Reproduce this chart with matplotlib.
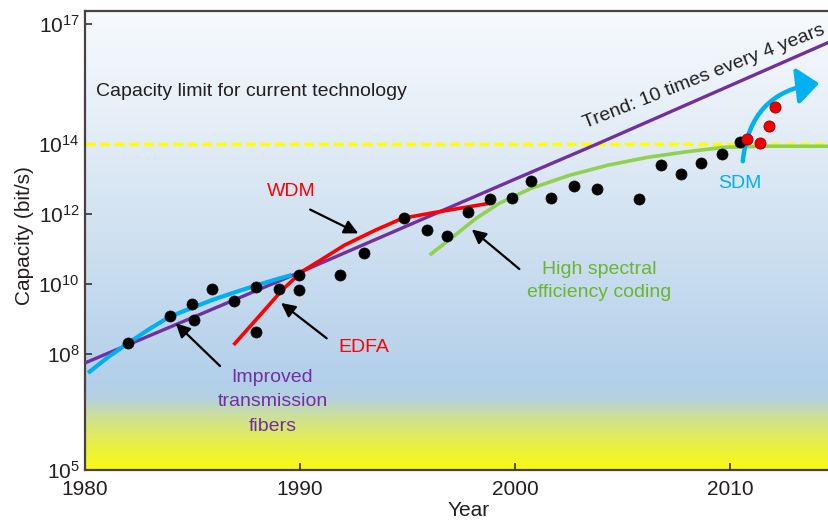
import numpy as np
import matplotlib
matplotlib.use("Agg")
import matplotlib.pyplot as plt
from matplotlib.ticker import FixedLocator, FixedFormatter, NullLocator
from matplotlib.patches import FancyArrowPatch

plt.rcParams['font.family'] = ['Liberation Sans', 'DejaVu Sans']
plt.rcParams['mathtext.fontset'] = 'custom'
plt.rcParams['mathtext.rm'] = 'Liberation Sans'
plt.rcParams['mathtext.it'] = 'Liberation Sans'

# ---------------- data (capacities given as log10 of bit/s) ----------------
dot_year = [1982.0, 1983.95, 1984.98, 1985.08, 1985.92, 1986.93, 1987.94, 1987.97,
            1989.04, 1989.97, 1989.97, 1991.86, 1992.96, 1994.85, 1995.89, 1996.82,
            1997.83, 1998.85, 1999.87, 2000.73, 2001.67, 2002.76, 2003.80, 2005.75,
            2006.78, 2007.73, 2008.67, 2009.63, 2010.47]
dot_log = [8.33, 9.09, 9.42, 8.96, 9.85, 9.51, 9.92, 8.64,
           9.86, 10.27, 9.84, 10.25, 10.89, 11.89, 11.54, 11.38,
           12.05, 12.44, 12.47, 12.95, 12.47, 12.81, 12.72, 12.42,
           13.39, 13.16, 13.46, 13.73, 14.06]

sdm_year = [2010.78, 2011.40, 2011.81, 2012.11]
sdm_log = [14.12, 14.03, 14.45, 14.93]

trend_year = [1980.0, 1990.0, 2000.0, 2003.8, 2014.6]
trend_log = [7.77, 10.34, 13.0, 14.0, 16.55]

fiber_year = [1980.14, 1981.07, 1982.0, 1982.98, 1983.95, 1984.93, 1985.89,
              1986.84, 1987.75, 1988.70, 1989.61]
fiber_log = [7.51, 7.92, 8.31, 8.71, 9.07, 9.31, 9.54, 9.74, 9.92, 10.10, 10.26]

wdm_year = [1986.91, 1988.08, 1989.17, 1990.07, 1990.97, 1992.06, 1993.50,
            1994.76, 1996.20, 1997.65, 1998.82]
wdm_log = [8.26, 9.07, 9.83, 10.35, 10.69, 11.11, 11.54, 11.88, 12.04, 12.19, 12.31]

coding_year = [1996.03, 1997.11, 1998.19, 1999.27, 2000.72, 2002.53, 2004.33,
               2006.13, 2007.94, 2009.74, 2011.55, 2014.6]
coding_log = [10.83, 11.35, 11.88, 12.31, 12.73, 13.11, 13.40, 13.62, 13.78,
              13.91, 13.94, 13.94]

limit_log = 14
sdm_arrow_start = (2010.59, 13.51)
sdm_arrow_end = (2014.14, 15.52)

ytick_exp = [5, 8, 10, 12, 14, 17]
xticks = [1980, 1990, 2000, 2010]

# ---------------- axis calibration (the original axis is not uniformly logarithmic) ----------------
LOG_BREAKS = np.array([5.0, 8.0, 14.0, 17.0])
PIX_BREAKS = np.array([0.0, 116.0, 326.0, 446.0])


def _pw(x, xp, fp):
    x = np.asarray(x, dtype=float)
    shape = x.shape
    x = np.atleast_1d(x)
    out = np.interp(x, xp, fp)
    lo = x < xp[0]
    hi = x > xp[-1]
    out[lo] = fp[0] + (x[lo] - xp[0]) * (fp[1] - fp[0]) / (xp[1] - xp[0])
    out[hi] = fp[-1] + (x[hi] - xp[-1]) * (fp[-1] - fp[-2]) / (xp[-1] - xp[-2])
    return out.reshape(shape)


def fwd(y):
    y = np.asarray(y, dtype=float)
    with np.errstate(divide='ignore', invalid='ignore'):
        l = np.log10(np.maximum(y, 1e-300))
    return _pw(l, LOG_BREAKS, PIX_BREAKS)


def inv(v):
    return 10.0 ** _pw(v, PIX_BREAKS, LOG_BREAKS)


def C(l):
    return 10.0 ** np.asarray(l, dtype=float)


# ---------------- figure ----------------
W, H = 829, 523
fig = plt.figure(figsize=(W / 100, H / 100), dpi=100)
ax = fig.add_axes([85 / W, (H - 470) / H, 744 / W, 459 / H])
ax.set_yscale('function', functions=(fwd, inv))
ax.set_xlim(1980, 2014.6)
ax.set_ylim(1e5, 10 ** 17.33)

# background gradient
stops = np.array([0.0, 0.0545, 0.109, 0.157, 0.185, 0.479, 0.719, 1.0])
cols = np.array([[250, 250, 15], [232, 240, 70], [208, 226, 140], [182, 209, 225],
                 [178, 207, 234], [205, 223, 240], [226, 236, 246], [247, 250, 253]]) / 255.0
fr = np.linspace(0, 1, 600)
grad = np.stack([np.interp(fr, stops, cols[:, k]) for k in range(3)], axis=1)[::-1]
ax.imshow(grad[:, None, :], extent=[0, 1, 0, 1], transform=ax.transAxes,
          aspect='auto', zorder=0, interpolation='bilinear')

purple = '#7030a0'
cyan = '#00b0f0'
red = '#ff0000'
green = '#92d050'
gtext = '#6cb52d'

ax.axhline(C(limit_log), color='#ffff00', lw=2.5, dashes=(2.9, 1.3), zorder=2)
ax.plot(trend_year, C(trend_log), color=purple, lw=2.4, zorder=3, solid_capstyle='butt')
ax.plot(fiber_year, C(fiber_log), color=cyan, lw=3.0, zorder=4, solid_capstyle='butt',
        solid_joinstyle='round')
ax.plot(wdm_year, C(wdm_log), color=red, lw=2.6, zorder=4, solid_capstyle='butt',
        solid_joinstyle='round')
ax.plot(coding_year, C(coding_log), color=green, lw=2.6, zorder=3, solid_capstyle='butt',
        solid_joinstyle='round')

ax.plot(dot_year, C(dot_log), 'o', color='black', ms=8, mec='#111111', mew=0.5, zorder=6)
ax.plot(sdm_year, C(sdm_log), 'o', color='#ee0000', ms=8, mec='#990000', mew=0.6, zorder=7)

arr = FancyArrowPatch((sdm_arrow_start[0], C(sdm_arrow_start[1])),
                      (sdm_arrow_end[0], C(sdm_arrow_end[1])),
                      connectionstyle='arc3,rad=-0.4',
                      arrowstyle='-|>,head_length=0.6,head_width=0.5',
                      mutation_scale=22, color=cyan, lw=3.2, zorder=5,
                      shrinkA=0, shrinkB=0)
ax.add_patch(arr)

# annotation arrows
ann = [((1990.47, 12.13), (1992.71, 11.45)),
       ((1991.24, 8.45), (1989.12, 9.46)),
       ((1986.28, 7.69), (1984.22, 8.88)),
       ((2000.2, 10.43), (1997.99, 11.56))]
for (tx, tl), (hx, hl) in ann:
    ax.annotate('', xy=(hx, C(hl)), xytext=(tx, C(tl)),
                arrowprops=dict(arrowstyle='-|>,head_length=0.6,head_width=0.3',
                                color='black', lw=1.6, mutation_scale=14,
                                shrinkA=0, shrinkB=0), zorder=5)

fs = 14
ax.text(1980.51, C(15.31), 'Capacity limit for current technology', fontsize=fs,
        color='#231f20', ha='left', va='center', zorder=8)
ax.text(2008.77, C(15.68), 'Trend: 10 times every 4 years', fontsize=fs, color='#231f20',
        ha='center', va='center', rotation=21.5, rotation_mode='anchor', zorder=8)
ax.text(1989.58, C(12.66), 'WDM', fontsize=fs, color=red, ha='center', va='center', zorder=8)
ax.text(1992.98, C(8.2), 'EDFA', fontsize=fs, color=red, ha='center', va='center', zorder=8)
ax.text(1988.72, C(6.76), 'Improved\ntransmission\nfibers', fontsize=fs, color=purple,
        ha='center', va='center', linespacing=1.55, zorder=8)
ax.text(2003.91, C(10.09), 'High spectral\nefficiency coding', fontsize=fs, color=gtext,
        ha='center', va='center', linespacing=1.5, zorder=8)
ax.text(2010.47, C(12.88), 'SDM', fontsize=fs, color=cyan, ha='center', va='center', zorder=8)

# axes styling
ax.yaxis.set_major_locator(FixedLocator([10.0 ** e for e in ytick_exp]))
ax.yaxis.set_major_formatter(FixedFormatter([r'$\mathregular{10^{%d}}$' % e for e in ytick_exp]))
ax.yaxis.set_minor_locator(NullLocator())
ax.set_xticks(xticks)
ax.set_xticklabels([str(x) for x in xticks])
ax.xaxis.set_minor_locator(NullLocator())
ax.tick_params(direction='in', length=5, width=1.2, color='#3a3030',
               labelsize=15, labelcolor='#231f20', pad=4)
ax.tick_params(axis='x', pad=7)
for s in ['left', 'bottom', 'top']:
    ax.spines[s].set_color('#4a4040')
    ax.spines[s].set_linewidth(1.6)
ax.spines['right'].set_visible(False)

ax.set_ylabel('Capacity (bit/s)', fontsize=15, color='#231f20')
ax.set_xlabel('Year', fontsize=15, color='#231f20')
ax.yaxis.set_label_coords(-0.068, 0.51)
ax.xaxis.set_label_coords(0.515, -0.068)

fig.savefig('out.png', dpi=100)
